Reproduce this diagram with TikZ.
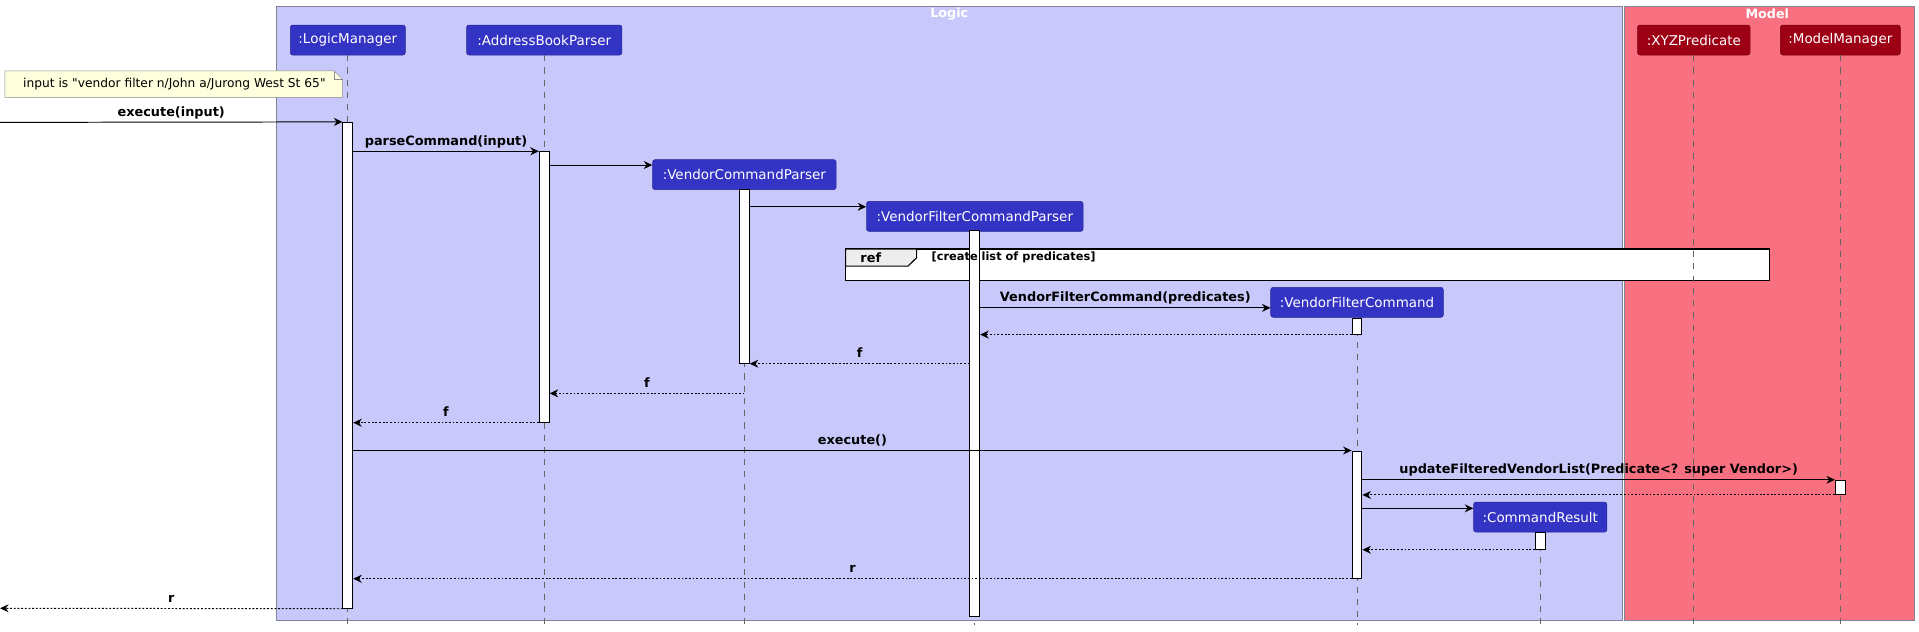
\documentclass[tikz,border=0pt]{standalone}
\usepackage{fontspec}
\newfontfamily\umlfont{DejaVu Sans}
\usetikzlibrary{arrows.meta}
\definecolor{logicbg}{RGB}{200,200,250}
\definecolor{modelbg}{RGB}{249,113,129}
\definecolor{logicfg}{RGB}{51,51,196}
\definecolor{modelfg}{RGB}{157,0,21}
\definecolor{notebg}{RGB}{254,255,221}
\definecolor{boxline}{RGB}{130,130,150}

\begin{document}
\begin{tikzpicture}[x=1pt,y=-1pt,
  part/.style={draw=#1!75!black,fill=#1,rounded corners=2pt,text=white,minimum height=24.5pt,inner sep=0pt,font=\umlfont\fontsize{11}{13}\selectfont},
  act/.style={draw,fill=white,line width=0.8pt,minimum width=8pt,inner sep=0pt},
  life/.style={draw=black!60,line width=0.6pt,dash pattern=on 5pt off 5pt},
  msg/.style={line width=0.8pt,-{Stealth[length=7pt,width=6.5pt,inset=2.3pt]}},
  ret/.style={msg,dash pattern=on 1.5pt off 1.5pt},
  lbl/.style={above=2.5pt,inner sep=0pt,text height=8pt,text depth=2pt,font=\umlfont\bfseries\fontsize{10.5}{12}\selectfont},
  title/.style={text=white,inner sep=0pt,font=\umlfont\bfseries\fontsize{10.4}{12}\selectfont}]
  \useasboundingbox (0,0) rectangle (1568,516.4);
  \draw[boxline,fill=logicbg] (226,5) rectangle (1325.2,506.5);
  \draw[boxline,fill=modelbg] (1327,5) rectangle (1564.5,506.5);
  \node[title] (logic) at (775.6,11.4) {Logic};
  \node[title] (model) at (1444,11.4) {Model};
  \draw[black!45,fill=notebg] (4,58) -- (273,58) -- (280,65) -- (280,79.5) -- (4,79.5) -- cycle;
  \draw[black!45] (273,58) -- (273,65) -- (280,65);
  \node[font=\umlfont\fontsize{10}{12}\selectfont,inner sep=0pt] (note) at (142.5,68.7) {input is "vendor filter n/John a/Jurong West St 65"};
  \draw[line width=1.3pt,fill=white] (691,203.5) rectangle (1445.8,229.2);
  \draw[line width=0.9pt,fill=black!7] (691,203.5) -- (749,203.5) -- (749,210.5) -- (742,217.4) -- (691,217.4) -- cycle;
  \node[part=logicfg,minimum width=94pt] (lm) at (284.2,32.7) {:LogicManager};
  \node[part=logicfg,minimum width=127pt] (abp) at (444.7,32.7) {:AddressBookParser};
  \node[part=modelfg,minimum width=92pt] (xyz) at (1384,32.7) {:XYZPredicate};
  \node[part=modelfg,minimum width=98pt] (mm) at (1503.7,32.7) {:ModelManager};
  \node[part=logicfg,minimum width=150pt] (vcp) at (608.2,142.7) {:VendorCommandParser};
  \node[part=logicfg,minimum width=177pt] (vfcp) at (796.5,176.8) {:VendorFilterCommandParser};
  \node[part=logicfg,minimum width=141pt] (vfc) at (1108.8,247) {:VendorFilterCommand};
  \node[part=logicfg,minimum width=109pt] (cr) at (1258.5,422.5) {:CommandResult};
  \coordinate (bot) at (0,511);
  \draw[life] (lm.south) -- (lm.south |- bot);
  \draw[life] (abp.south) -- (abp.south |- bot);
  \draw[life] (xyz.south) -- (xyz.south |- bot);
  \draw[life] (mm.south) -- (mm.south |- bot);
  \draw[life] (vcp.south) -- (vcp.south |- bot);
  \draw[life] (vfcp.south) -- (vfcp.south |- bot);
  \draw[life] (vfc.south) -- (vfc.south |- bot);
  \draw[life] (cr.south) -- (cr.south |- bot);
  \node[act,minimum height=397pt] (lmA) at (284.2,298.5) {};
  \node[act,minimum height=221pt] (abA) at (444.7,234.5) {};
  \node[act,minimum height=141.8pt] (vcpA) at (608.2,225.9) {};
  \node[act,minimum height=315.3pt] (vfcpA) at (796.5,346.35) {};
  \node[act,minimum height=13pt] (vfcA1) at (1108.8,266.5) {};
  \node[act,minimum height=104pt] (vfcA2) at (1108.8,420.5) {};
  \node[act,minimum height=11.6pt] (mmA) at (1503.7,398.2) {};
  \node[act,minimum height=13.8pt] (crA) at (1258.5,441.9) {};
  \node[inner sep=0pt,font=\umlfont\bfseries\fontsize{10.5}{12}\selectfont] (reftag) at (711.5,210.3) {ref};
  \node[anchor=west,inner sep=0pt,font=\umlfont\bfseries\fontsize{9.3}{11}\selectfont] (refname) at (761,210.5) {[create list of predicates]};
  \coordinate (in) at (0,100);
  \coordinate (out) at (0,497);
  \coordinate (vcpIn) at ([yshift=-4.6pt]vcp.north west);
  \coordinate (vfcpIn) at ([yshift=-4.6pt]vfcp.north west);
  \coordinate (vfcIn) at ([yshift=-17pt]vfc.north west);
  \coordinate (crIn) at ([yshift=-5.3pt]cr.north west);
  \coordinate (vcpF) at (vcp.south |- 0,321.4);
  \draw[msg] (in) -- node[lbl] {execute(input)} (lmA.north west);
  \draw[msg] (lmA.east |- abA.north) -- node[lbl] {parseCommand(input)} (abA.north west);
  \draw[msg] (abA.east |- vcpIn) -- (vcpIn);
  \draw[msg] (vcpA.east |- vfcpIn) -- (vfcpIn);
  \draw[msg] (vfcpA.east |- vfcIn) -- node[lbl] {VendorFilterCommand(predicates)} (vfcIn);
  \draw[ret] (vfcA1.south west) -- (vfcpA.east |- vfcA1.south);
  \draw[ret] (vfcpA.west |- vcpA.south) -- node[lbl] {f} (vcpA.south east);
  \draw[ret] (vcpF) -- node[lbl] {f} (abA.east |- vcpF);
  \draw[ret] (abA.south west) -- node[lbl] {f} (lmA.east |- abA.south);
  \draw[msg] (lmA.east |- vfcA2.north) -- node[lbl] {execute()} (vfcA2.north west);
  \draw[msg] (vfcA2.east |- mmA.north) -- node[lbl] {updateFilteredVendorList(Predicate<? super Vendor>)} (mmA.north west);
  \draw[ret] (mmA.south west) -- (vfcA2.east |- mmA.south);
  \draw[msg] (vfcA2.east |- crIn) -- (crIn);
  \draw[ret] (crA.south west) -- (vfcA2.east |- crA.south);
  \draw[ret] (vfcA2.south west) -- node[lbl] {r} (lmA.east |- vfcA2.south);
  \draw[ret] (lmA.south west) -- node[lbl] {r} (out);
\end{tikzpicture}
\end{document}
